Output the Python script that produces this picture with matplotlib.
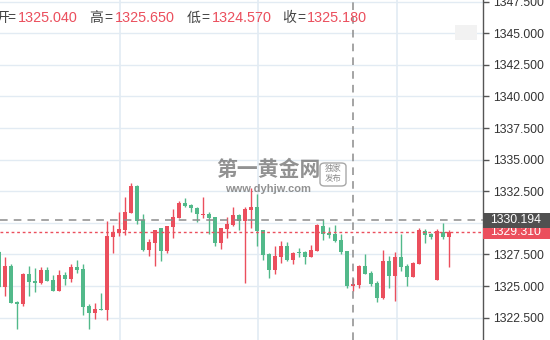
import numpy as np
import matplotlib
matplotlib.use("Agg")
from matplotlib import pyplot as plt
from matplotlib.patches import FancyBboxPatch

# OHLC bars (red = close above open, green = close below open)
opens = [1327.71, 1324.94, 1326.61, 1323.76, 1323.55, 1325.95, 1325.40, 1325.26, 1326.27, 1325.47,
         1324.63, 1325.87, 1325.58, 1326.50, 1326.34, 1323.42, 1322.89, 1323.18, 1323.10, 1328.90,
         1329.22, 1329.45, 1330.80, 1332.91, 1330.22, 1327.87, 1328.43, 1329.59, 1327.77, 1329.69,
         1330.40, 1331.57, 1331.41, 1331.19, 1330.59, 1330.70, 1330.46, 1328.40, 1329.53, 1329.85,
         1330.62, 1330.17, 1331.04, 1331.25, 1329.43, 1327.56, 1326.29, 1327.32, 1328.19, 1327.08,
         1327.67, 1327.69, 1327.32, 1327.79, 1329.75, 1329.19, 1329.11, 1328.64, 1327.75, 1325.04,
         1325.10, 1326.61, 1326.03, 1325.26, 1324.07, 1326.98, 1325.81, 1327.29, 1326.58, 1325.74,
         1326.76, 1329.38, 1329.09, 1325.50, 1329.30, 1328.90]
highs = [1327.75, 1327.32, 1326.74, 1323.84, 1326.00, 1326.58, 1326.42, 1326.50, 1326.50, 1325.87,
         1326.27, 1326.11, 1326.76, 1327.06, 1326.72, 1323.58, 1323.66, 1324.47, 1330.14, 1329.83,
         1330.85, 1332.04, 1333.15, 1332.99, 1330.70, 1328.72, 1329.45, 1329.62, 1329.78, 1331.12,
         1331.70, 1331.96, 1331.51, 1331.25, 1332.04, 1330.85, 1330.48, 1329.62, 1330.46, 1331.25,
         1330.70, 1331.25, 1332.73, 1332.28, 1329.45, 1327.63, 1328.19, 1328.58, 1328.50, 1327.71,
         1327.98, 1327.77, 1328.27, 1329.93, 1330.32, 1329.69, 1329.83, 1329.11, 1327.77, 1325.65,
         1326.63, 1327.53, 1326.19, 1325.42, 1327.85, 1327.40, 1327.69, 1329.14, 1326.74, 1326.90,
         1329.59, 1329.53, 1329.17, 1329.51, 1329.96, 1329.43]
lows = [1324.90, 1324.23, 1323.65, 1321.60, 1323.44, 1324.23, 1324.55, 1325.16, 1325.40, 1324.60,
        1324.60, 1325.08, 1325.34, 1326.05, 1322.71, 1321.60, 1322.39, 1323.10, 1322.31, 1327.63,
        1328.96, 1329.03, 1330.80, 1329.93, 1327.77, 1327.40, 1326.61, 1327.00, 1327.61, 1328.82,
        1330.36, 1331.25, 1330.88, 1330.09, 1330.40, 1329.14, 1328.19, 1327.95, 1328.77, 1329.77,
        1329.45, 1325.26, 1329.61, 1328.19, 1327.08, 1325.66, 1325.97, 1326.80, 1327.00, 1326.76,
        1327.27, 1326.76, 1327.30, 1327.77, 1328.66, 1328.77, 1328.50, 1327.56, 1324.82, 1324.57,
        1324.87, 1325.95, 1325.02, 1323.76, 1323.97, 1324.87, 1323.84, 1326.21, 1325.02, 1325.72,
        1326.72, 1328.43, 1328.74, 1325.48, 1328.74, 1326.53]
closes = [1324.94, 1326.61, 1323.68, 1323.60, 1325.95, 1325.34, 1325.26, 1326.27, 1325.42, 1324.63,
          1325.87, 1325.58, 1326.50, 1326.29, 1323.36, 1322.89, 1323.18, 1323.10, 1328.96, 1329.30,
          1329.51, 1330.85, 1332.91, 1330.17, 1327.87, 1328.48, 1329.43, 1327.77, 1329.75, 1330.46,
          1331.57, 1331.33, 1331.15, 1330.67, 1330.70, 1330.40, 1328.40, 1329.59, 1329.91, 1330.62,
          1330.17, 1331.09, 1331.25, 1329.38, 1327.48, 1326.29, 1327.40, 1328.19, 1327.08, 1327.63,
          1327.59, 1327.32, 1327.87, 1329.83, 1329.11, 1329.06, 1328.58, 1327.71, 1325.02, 1325.18,
          1326.61, 1325.97, 1325.18, 1324.07, 1326.98, 1325.81, 1327.29, 1326.53, 1325.74, 1326.82,
          1329.43, 1329.06, 1328.90, 1329.35, 1328.88, 1329.31]

y_ticks = [1322.5, 1325.0, 1327.5, 1330.0, 1332.5, 1335.0, 1337.5, 1340.0, 1342.5, 1345.0, 1347.5]
cross_price = 1330.194
cross_bar = 59
last_price = 1329.31
time_grid = [20.1, 43.1, 66.3]
info_labels = ["开", "高", "低", "收"]
info_values = ["1325.040", "1325.650", "1324.570", "1325.180"]

RED = "#eb4f5d"
GREEN = "#52b98a"
GRID = "#e2ebf3"
NUM_FONT = ["Liberation Sans", "DejaVu Sans"]
CJK_FONT = ["Noto Sans CJK SC", "DejaVu Sans"]

W, H = 550, 340
fig = plt.figure(figsize=(W / 100, H / 100), dpi=100)
fig.patch.set_facecolor("white")
ax = fig.add_axes([0, 0, 483 / W, 1])
ax.set_facecolor("white")

x = np.arange(len(opens))
o = np.array(opens)
c = np.array(closes)
colors = [RED if cc >= oo else GREEN for oo, cc in zip(o, c)]

# grid
for t in y_ticks:
    ax.axhline(t, color=GRID, lw=1, zorder=0)
for g in time_grid:
    ax.axvline(g, color=GRID, lw=1.2, zorder=0)

# watermark
ax.text(0.555, 0.5, "第一黄金网", transform=ax.transAxes, fontsize=15, fontweight="bold",
        color="#6e6e6e", alpha=0.75, family=CJK_FONT, ha="center", va="center", zorder=1)
ax.text(0.555, 0.445, "www.dyhjw.com", transform=ax.transAxes, fontsize=8, fontweight="bold",
        color="#6e6e6e", alpha=0.75, family=NUM_FONT, ha="center", va="center", zorder=1)
box = FancyBboxPatch((320 / 483, 1 - 186 / H), 26 / 483, 23 / H, transform=ax.transAxes,
                     boxstyle="round,pad=0,rounding_size=0.01", fc="none", ec="#8a8a8a",
                     lw=1, alpha=0.75, zorder=1)
ax.add_patch(box)
ax.text(333 / 483, 1 - 168 / H, "独家", transform=ax.transAxes, fontsize=6, color="#6e6e6e",
        alpha=0.8, family=CJK_FONT, ha="center", va="center", zorder=1)
ax.text(333 / 483, 1 - 179 / H, "发布", transform=ax.transAxes, fontsize=6, color="#6e6e6e",
        alpha=0.8, family=CJK_FONT, ha="center", va="center", zorder=1)

# candles
ax.vlines(x, lows, highs, colors=colors, lw=1, zorder=2)
bottoms = np.minimum(o, c)
heights = np.maximum(np.abs(c - o), 0.08)
ax.bar(x, heights, bottom=bottoms, width=0.68, color=colors, linewidth=0, zorder=3)

# crosshair and last price line
ax.axhline(cross_price, color="#8c8c8c", lw=1.1, ls=(0, (5, 4)), zorder=4)
ax.axvline(cross_bar, color="#8c8c8c", lw=1.1, ls=(0, (5, 4)), zorder=4)
ax.axhline(last_price, color=RED, lw=1, ls=(0, (2, 2)), zorder=4)

ax.set_xlim(0.12, 80.6)
ax.set_ylim(1320.73, 1347.63)

# axis on the right
for side in ["top", "left", "bottom"]:
    ax.spines[side].set_visible(False)
ax.spines["right"].set_color("#555555")
ax.spines["right"].set_linewidth(1)
ax.set_xticks([])
ax.yaxis.tick_right()
ax.set_yticks(y_ticks)
ax.set_yticklabels(["%.3f" % t for t in y_ticks])
ax.tick_params(axis="y", direction="out", length=4, width=1, color="#555555",
               labelcolor="#333333", labelsize=8.8, pad=3)
for lbl in ax.get_yticklabels():
    lbl.set_family(NUM_FONT)

# price tags on axis
ytr = ax.transData
def tag(price, text, bg, zorder):
    py = ax.transData.transform((0, price))[1]
    fy = py / H
    fig.patches.append(plt.Rectangle((483 / W, fy - 7.5 / H), 67 / W, 15 / H, transform=fig.transFigure,
                                     fc=bg, ec="none", zorder=zorder))
    fig.text(490 / W, fy, text, color="white", fontsize=8.8, family=NUM_FONT, ha="left",
             va="center", zorder=zorder + 1)

tag(last_price, "%.3f" % last_price, RED, 5)
tag(cross_price, "%.3f" % cross_price, "#505050", 7)

# faint toolbar button top right
fig.patches.append(plt.Rectangle((455 / W, 1 - 40 / H), 22 / W, 15 / H, transform=fig.transFigure,
                                 fc="#f2f2f2", ec="none", zorder=1))

# OHLC info row
label_x = [-5, 89, 187, 282]
value_x = [18, 115, 212, 307]
eq_x = [7, 104, 201, 297]
for lx, ex, vx, lab, val in zip(label_x, eq_x, value_x, info_labels, info_values):
    fig.text(lx / W, 1 - 18 / H, lab, color="#444444", fontsize=10, family=CJK_FONT,
             ha="left", va="center")
    fig.text(ex / W, 1 - 18 / H, "=", color="#444444", fontsize=10, family=NUM_FONT,
             ha="left", va="center")
    fig.text(vx / W, 1 - 18 / H, val, color=RED, fontsize=10.4, family=NUM_FONT,
             ha="left", va="center")

fig.savefig("out.png", dpi=100)
